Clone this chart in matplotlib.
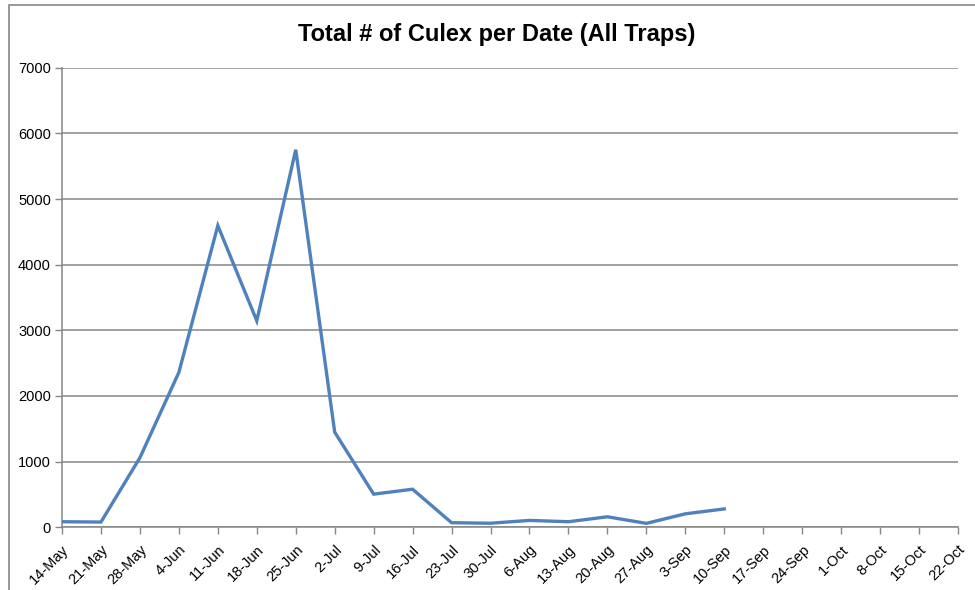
import matplotlib.pyplot as plt
from matplotlib.patches import Rectangle

plt.rcParams['font.family'] = ['Liberation Sans Narrow', 'Liberation Sans', 'DejaVu Sans']

dates = ['14-May', '21-May', '28-May', '4-Jun', '11-Jun', '18-Jun', '25-Jun', '2-Jul',
         '9-Jul', '16-Jul', '23-Jul', '30-Jul', '6-Aug', '13-Aug', '20-Aug', '27-Aug',
         '3-Sep', '10-Sep', '17-Sep', '24-Sep', '1-Oct', '8-Oct', '15-Oct', '22-Oct']
culex = [85, 80, 1060, 2360, 4595, 3145, 5750, 1450,
         505, 580, 70, 62, 105, 85, 160, 60,
         205, 280]
y_ticks = [0, 1000, 2000, 3000, 4000, 5000, 6000, 7000]

fig = plt.figure(figsize=(9.75, 5.9), dpi=100)
ax = fig.add_axes([62 / 975, 1 - 527.3 / 590, (958 - 62) / 975, (527.3 - 67.7) / 590])

grey = '#868686'
ax.plot(range(len(culex)), culex, color='#4F81BD', linewidth=2.4,
        solid_joinstyle='miter', zorder=3)

ax.set_xlim(0, len(dates) - 1)
ax.set_ylim(0, 7000)
ax.set_xticks(range(len(dates)))
ax.set_xticklabels(dates, rotation=45, ha='right', va='top', rotation_mode='anchor',
                   fontsize=10.5)
ax.set_yticks(y_ticks)
ax.set_yticklabels([str(v) for v in y_ticks], fontsize=10.5)
ax.tick_params(axis='both', direction='out', length=5, color=grey, width=1, pad=3)
ax.tick_params(axis='x', pad=6)
ax.grid(axis='y', color=grey, linewidth=1.1)
ax.set_axisbelow(True)
for side in ['top', 'right']:
    ax.spines[side].set_visible(False)
for side in ['left', 'bottom']:
    ax.spines[side].set_color(grey)
    ax.spines[side].set_linewidth(1.1)

fig.text(497 / 975, 1 - 34 / 590, 'Total # of Culex per Date (All Traps)',
         ha='center', va='center', fontsize=17, fontweight='bold')

# outer chart border (cropped on the right and bottom)
fig.patches.append(Rectangle((8.5 / 975, -0.1), 1.2, 1 - 4.5 / 590 + 0.1,
                             transform=fig.transFigure, fill=False,
                             edgecolor=grey, linewidth=1.2))

fig.savefig('out.png', dpi=100)
